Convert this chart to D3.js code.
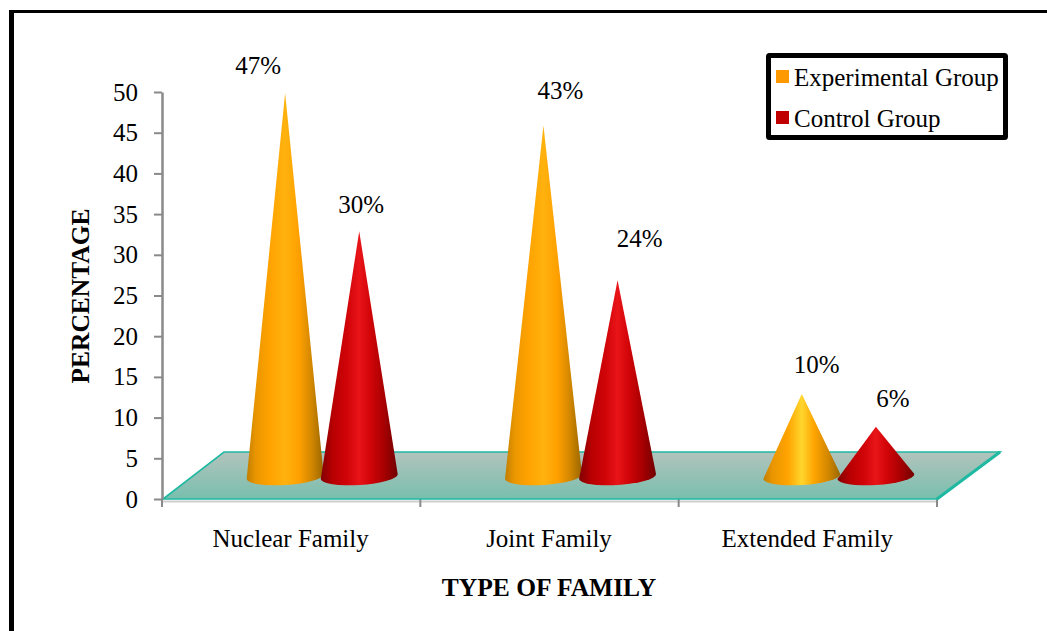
<!DOCTYPE html>
<html>
<head>
<meta charset="utf-8">
<script src="https://cdnjs.cloudflare.com/ajax/libs/d3/7.8.5/d3.min.js"></script>
<style>
  html, body { margin: 0; padding: 0; background: #fff; }
  svg { display: block; }
  text { font-family: "Liberation Serif", serif; fill: #000; }
</style>
</head>
<body>
<svg id="chart" width="1047" height="631"></svg>
<script>
// Family type survey values (percent)
const categories = ["Nuclear Family", "Joint Family", "Extended Family"];
const seriesNames = ["Experimental Group", "Control Group"];
const experimental = [47, 43, 10];
const control = [30, 24, 6];
const yTicks = [0, 5, 10, 15, 20, 25, 30, 35, 40, 45, 50];

// Hand placement of the percentage labels relative to each cone tip
const experimentalNudge = [[-27, -19], [17, -26], [15, -21]];
const controlNudge = [[2, -18], [22, -33], [17, -20]];

const W = 1047, H = 631;
const plot = { left: 162, right: 937, top: 92, bottom: 499 };
const depth = { x: 61, y: 47 };     // floor skew of the pseudo-3D plane
const tilt = -3.7;                  // base ellipse rotation, degrees
const baseRy = 8.5;
const labelSize = "25px";

const svg = d3.select("#chart");
const defs = svg.append("defs");

function hGrad(id, stops) {
  const g = defs.append("linearGradient").attr("id", id)
    .attr("x1", 0).attr("x2", 1).attr("y1", 0).attr("y2", 0);
  stops.forEach(([o, c]) => g.append("stop").attr("offset", o).attr("stop-color", c));
}
hGrad("orangeCone", [[0, "#c07e00"], [0.12, "#ea9600"], [0.3, "#ffa200"], [0.5, "#ffb20e"], [0.68, "#ffa000"], [0.85, "#d08600"], [1, "#9a6600"]]);
hGrad("orangeConeBright", [[0, "#c07e00"], [0.12, "#ea9600"], [0.32, "#ffa400"], [0.5, "#ffd62e"], [0.66, "#ffa400"], [0.85, "#d08600"], [1, "#9a6600"]]);
hGrad("redCone", [[0, "#820000"], [0.16, "#b80002"], [0.34, "#d00408"], [0.5, "#e81418"], [0.64, "#d20508"], [0.82, "#a80002"], [1, "#700000"]]);

const floorGrad = defs.append("linearGradient").attr("id", "floorFill")
  .attr("x1", 0).attr("x2", 0).attr("y1", 0).attr("y2", 1);
floorGrad.append("stop").attr("offset", 0).attr("stop-color", "#b2c3bc");
floorGrad.append("stop").attr("offset", 1).attr("stop-color", "#78bfae");

// Sheet border: top and left edges only
svg.append("line").attr("x1", 9).attr("x2", W).attr("y1", 11.5).attr("y2", 11.5)
  .attr("stroke", "#000").attr("stroke-width", 3);
svg.append("line").attr("x1", 11.5).attr("x2", 11.5).attr("y1", 10).attr("y2", H)
  .attr("stroke", "#000").attr("stroke-width", 5);

const x = d3.scaleBand().domain(categories).range([plot.left, plot.right]);
const y = d3.scaleLinear().domain([0, 50]).range([plot.bottom, plot.top]);
const inner = d3.scaleBand().domain(seriesNames).range([0, x.bandwidth()]).paddingOuter(0.743).paddingInner(0);

// Axes
const styleAxis = g => {
  g.selectAll("text").style("font-size", labelSize).style("font-family", '"Liberation Serif", serif').attr("fill", "#000");
  g.selectAll(".tick line").attr("stroke", "#8a8a8a").attr("stroke-width", 2);
};
svg.append("g").attr("transform", `translate(0,${plot.bottom + 2})`)
  .call(d3.axisBottom(x).tickSizeOuter(0).tickSize(0).tickFormat(""))
  .call(g => g.select(".domain").attr("stroke", "#cfcfcf").attr("stroke-width", 2));
// Category boundaries get the tick marks, labels sit at band centres
svg.append("g").selectAll("line").data(d3.range(categories.length + 1)).join("line")
  .attr("x1", i => plot.left + i * x.step()).attr("x2", i => plot.left + i * x.step())
  .attr("y1", plot.bottom).attr("y2", plot.bottom + 8)
  .attr("stroke", "#8a8a8a").attr("stroke-width", 2);
svg.append("g").selectAll("text").data(categories).join("text")
  .attr("x", d => x(d) + x.bandwidth() / 2 - 0.5).attr("y", 547)
  .attr("text-anchor", "middle").style("font-size", labelSize).text(d => d);

// Teal floor plane standing in for the 3D chart base
const floorPts = [
  [plot.left + 1, plot.bottom],
  [plot.left + depth.x + 1, plot.bottom - depth.y],
  [plot.right + depth.x + 2, plot.bottom - depth.y],
  [plot.right, plot.bottom]
];
svg.append("polygon").attr("points", floorPts.join(" ")).attr("fill", "url(#floorFill)");
svg.append("path").attr("d", d3.line()([floorPts[3], floorPts[0], floorPts[1], floorPts[2], floorPts[3]]))
  .attr("fill", "none").attr("stroke", "#1fb9a2").attr("stroke-width", 1.6);
svg.append("line").attr("x1", floorPts[2][0]).attr("y1", floorPts[2][1])
  .attr("x2", floorPts[3][0]).attr("y2", floorPts[3][1])
  .attr("stroke", "#1fb9a2").attr("stroke-width", 3);

svg.append("g").attr("transform", `translate(${plot.left},0)`)
  .call(d3.axisLeft(y).tickValues(yTicks).tickSize(8).tickPadding(16).tickSizeOuter(0))
  .call(styleAxis)
  .call(g => g.select(".domain").attr("stroke", "#8a8a8a").attr("stroke-width", 2.5));

// Cones
function conePath(cx, value, r) {
  const baseY = y(0) - depth.y / 2 + 1;
  const tipY = y(value) - depth.y / 2;
  const a = tilt * Math.PI / 180;
  const dx = r * Math.cos(a), dy = r * Math.sin(a);
  return `M${cx},${tipY}L${cx + dx},${baseY + dy}A${r},${baseRy} ${tilt} 0 1 ${cx - dx},${baseY - dy}Z`;
}
const coneRadius = inner.bandwidth() / 2 + 1.5;
const seriesRows = [
  { name: seriesNames[0], values: experimental, nudge: experimental.map((_, i) => experimentalNudge[i]),
    fill: i => i === 2 ? "url(#orangeConeBright)" : "url(#orangeCone)" },
  { name: seriesNames[1], values: control, nudge: control.map((_, i) => controlNudge[i]),
    fill: () => "url(#redCone)" }
];
const coneX = (cat, name) => x(cat) + inner(name) + inner.bandwidth() / 2 + depth.x / 2 + 0.5;

categories.forEach((cat, i) => {
  seriesRows.forEach(s => {
    const cx = coneX(cat, s.name);
    svg.append("path").attr("d", conePath(cx, s.values[i], coneRadius)).attr("fill", s.fill(i));
  });
});

// Percentage labels
seriesRows.forEach(s => {
  svg.append("g").selectAll("text").data(s.values).join("text")
    .attr("x", (d, i) => coneX(categories[i], s.name) + s.nudge[i][0])
    .attr("y", (d, i) => y(d) - depth.y / 2 + s.nudge[i][1])
    .attr("text-anchor", "middle").style("font-size", labelSize)
    .text(d => d + "%");
});

// Axis titles
svg.append("text").attr("x", 549).attr("y", 596).attr("text-anchor", "middle")
  .style("font-size", "25.5px").style("font-weight", "bold").text("TYPE OF FAMILY");
svg.append("text").attr("transform", "translate(89,296) rotate(-90)").attr("text-anchor", "middle")
  .style("font-size", "25.5px").style("font-weight", "bold").text("PERCENTAGE");

// Legend
const legend = svg.append("g");
legend.append("rect").attr("x", 768.5).attr("y", 55.5).attr("width", 237).attr("height", 82)
  .attr("rx", 1).attr("fill", "#fff").attr("stroke", "#000").attr("stroke-width", 5);
const legendColor = d3.scaleOrdinal().domain(seriesNames).range(["#ff9900", "#c00000"]);
const legendY = d3.scalePoint().domain(seriesNames).range([76.5, 117.5]);
legend.selectAll("rect.key").data(seriesNames).join("rect").attr("class", "key")
  .attr("x", 776).attr("y", d => legendY(d) - 6.5).attr("width", 13).attr("height", 13)
  .attr("fill", d => legendColor(d));
legend.selectAll("text").data(seriesNames).join("text")
  .attr("x", 794).attr("y", d => legendY(d) + 9.5).style("font-size", labelSize).text(d => d);
</script>
</body>
</html>
